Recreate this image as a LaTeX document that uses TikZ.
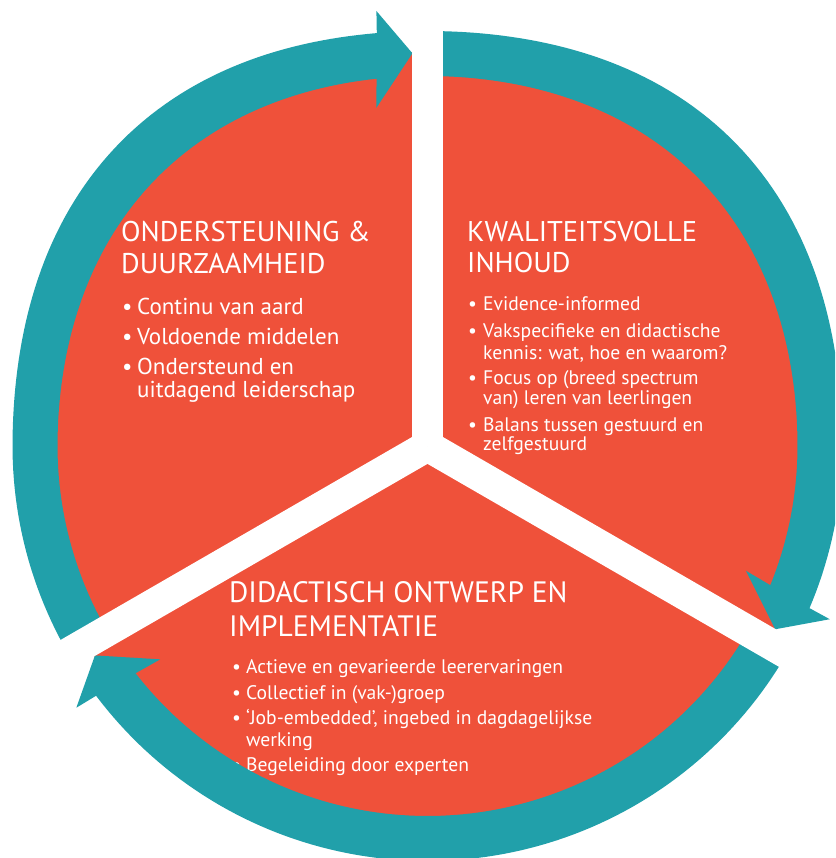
\documentclass[tikz,border=0pt]{standalone}
\usepackage{fontspec}
\setmainfont{PT Sans}
\definecolor{cred}{RGB}{239,81,58}
\definecolor{cteal}{RGB}{33,160,170}
\newcommand\itembul[1]{\llap{\makebox[#1][l]{•}}}
\tikzset{
  ttl/.style={anchor=base west, inner sep=0pt, text=white, font=\fontsize{28.5}{28.5}\selectfont},
  ttb/.style={anchor=base west, inner sep=0pt, text=white, font=\fontsize{29.5}{29.5}\selectfont},
  itl/.style={anchor=base west, inner sep=0pt, text=white, font=\fontsize{23}{23}\selectfont},
  its/.style={anchor=base west, inner sep=0pt, text=white, font=\fontsize{19.6}{19.6}\selectfont},
  gapband/.style={draw=white, line width=31pt, line cap=butt},
  ringfill/.style={fill=cteal}
}
\begin{document}
\begin{tikzpicture}[x=1pt,y=1pt,
  declare function={
    sb(\t)=(sin(\t)>0)*sin(2*\t)*sin(2*\t);
    rin(\t)=370+11*sb(\t);
    rout(\t)=415+17*sb(\t);
    rred(\t)=394+11*sb(\t);
  }]
\useasboundingbox (0,0) rectangle (835,858);
\clip (0,0) rectangle (835,858);
\fill[white] (0,0) rectangle (835,858);
\coordinate (c) at (427.5,412);
% red disc
\begin{scope}[shift={(c)}]
\fill[cred] plot[domain=0:360, samples=181, variable=\t] ({\t}:{rred(\t)}) -- cycle;
\end{scope}
% left sector text
\node[ttl] (lt1) at (121,616) {ONDERSTEUNING \&};
\node[ttl] (lt2) at (121,584) {DUURZAAMHEID};
\node[itl] (l1) at (137,543) {\itembul{15pt}Continu van aard};
\node[itl] (l2) at (137,513) {\itembul{15pt}Voldoende middelen};
\node[itl] (l3) at (137,483) {\itembul{15pt}Ondersteund en};
\node[itl] (l4) at (137,460) {uitdagend leiderschap};
% right sector text
\node[ttl] (rt1) at (467,616) {KWALITEITSVOLLE};
\node[ttl] (rt2) at (467,585) {INHOUD};
\node[its] (r1) at (483,547) {\itembul{15pt}Evidence-informed};
\node[its] (r2) at (483,520) {\itembul{15pt}Vakspecifieke en didactische};
\node[its] (r3) at (483,498) {kennis: wat, hoe en waarom?};
\node[its] (r4) at (483,473) {\itembul{15pt}Focus op (breed spectrum};
\node[its] (r5) at (483,453) {van) leren van leerlingen};
\node[its] (r6) at (483,426) {\itembul{15pt}Balans tussen gestuurd en};
\node[its] (r7) at (483,407) {zelfgestuurd};
% bottom sector text
\node[ttb] (bt1) at (229,255) {DIDACTISCH ONTWERP EN};
\node[ttb] (bt2) at (229,221) {IMPLEMENTATIE};
\node[its] (b1) at (246,184) {\itembul{14pt}Actieve en gevarieerde leerervaringen};
\node[its] (b2) at (246,158) {\itembul{14pt}Collectief in (vak-)groep};
\node[its] (b3) at (246,133) {\itembul{14pt}‘Job-embedded’, ingebed in dagdagelijkse};
\node[its] (b4) at (246,111) {werking};
\node[its] (b5) at (246,86) {\itembul{14pt}Begeleiding door experten};
% teal arrows
\begin{scope}[shift={(c)}]
\fill[ringfill] plot[domain=210:97, samples=90, variable=\t] ({\t}:{rout(\t)})
  -- (96.7:438) -- (92.2:393) -- (98.6:342) -- ({97.9}:{rin(97.9)})
  -- plot[domain=97.9:210, samples=90, variable=\t] ({\t}:{rin(\t)}) -- cycle;
\fill[ringfill] plot[domain=90:-23, samples=90, variable=\t] ({\t}:{rout(\t)})
  -- (-23.3:438) -- (-27.8:393) -- (-21.4:342) -- ({-22.1}:{rin(-22.1)})
  -- plot[domain=-22.1:90, samples=90, variable=\t] ({\t}:{rin(\t)}) -- cycle;
\fill[ringfill] plot[domain=330:217, samples=90, variable=\t] ({\t}:{rout(\t)})
  -- (216.7:438) -- (212.2:393) -- (218.6:342) -- ({217.9}:{rin(217.9)})
  -- plot[domain=217.9:330, samples=90, variable=\t] ({\t}:{rin(\t)}) -- cycle;
\end{scope}
% white gaps
\draw[gapband] (c) -- ++(90:470);
\draw[gapband] (c) -- ++(210:470);
\draw[gapband] (c) -- ++(330:470);
\end{tikzpicture}
\end{document}
